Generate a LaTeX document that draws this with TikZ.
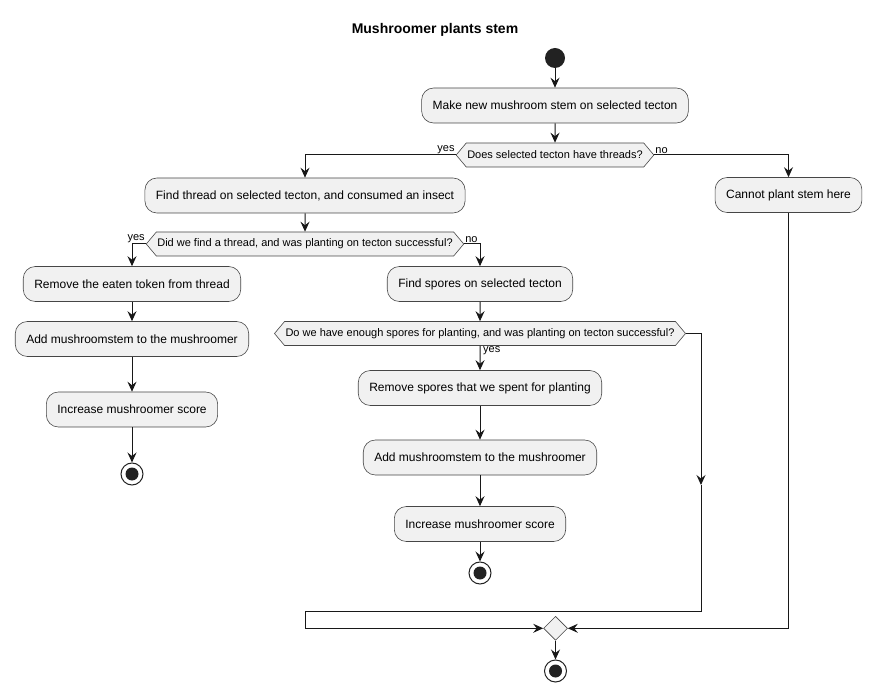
\documentclass[tikz,border=0pt]{standalone}
\usepackage{fontspec}
\setmainfont{Liberation Sans}
\usetikzlibrary{arrows.meta,shapes.symbols,shapes.geometric}
\definecolor{ink}{HTML}{181818}
\definecolor{boxfill}{HTML}{F1F1F1}
\definecolor{dotfill}{HTML}{222222}
\tikzstyle{action}=[rectangle,rounded corners=12pt,draw=ink!80,line width=0.6pt,fill=boxfill,minimum height=35pt,inner xsep=11pt,font=\fontsize{12}{14}\selectfont]
\tikzstyle{choice}=[signal,signal to=west and east,signal pointer angle=100,draw=ink!80,line width=0.6pt,fill=boxfill,minimum height=24pt,inner xsep=1pt,inner ysep=2pt,font=\fontsize{11}{13}\selectfont]
\tikzstyle{merge}=[diamond,draw=ink!80,line width=0.6pt,fill=boxfill,minimum size=24pt,inner sep=0pt]
\tikzstyle{start}=[circle,fill=dotfill,minimum size=20pt,inner sep=0pt]
\tikzstyle{finish}=[circle,draw=dotfill,line width=1pt,fill=white,minimum size=22pt,inner sep=0pt,path picture={\fill[dotfill] (path picture bounding box.center) circle (6.5pt);}]
\tikzstyle{lbl}=[inner sep=1pt,font=\fontsize{11}{13}\selectfont]
\tikzstyle{arr}=[-{Stealth[length=10pt,width=9pt,inset=3.5pt]},line width=1pt,draw=ink]

\begin{document}
\begin{tikzpicture}[x=1pt,y=-1pt]
        \useasboundingbox (0,0) rectangle (873,692);
        \node[font=\bfseries\fontsize{14}{16}\selectfont] (title) at (435,30) {Mushroomer plants stem};
        \node[start] (begin) at (555,58) {};
        \node[action] (make) at (555,105.5) {Make new mushroom stem on selected tecton};
        \node[choice] (threads) at (555,155) {Does selected tecton have threads?};
        \node[action] (findthread) at (305,195.5) {Find thread on selected tecton, and consumed an insect};
        \node[action] (cannot) at (788.5,195) {Cannot plant stem here};
        \node[choice] (found) at (305,244) {Did we find a thread, and was planting on tecton successful?};
        \node[action] (removetoken) at (132,284) {Remove the eaten token from thread};
        \node[action] (addstemA) at (132,339) {Add mushroomstem to the mushroomer};
        \node[action] (scoreA) at (132,409.5) {Increase mushroomer score};
        \node[finish] (endA) at (132,474) {};
        \node[action] (findspores) at (480,284) {Find spores on selected tecton};
        \node[choice] (enough) at (480,333.5) {Do we have enough spores for planting, and was planting on tecton successful?};
        \node[action] (removespores) at (480,388) {Remove spores that we spent for planting};
        \node[action] (addstemB) at (480,457.5) {Add mushroomstem to the mushroomer};
        \node[action] (scoreB) at (480,524) {Increase mushroomer score};
        \node[finish] (endB) at (480,573) {};
        \node[merge] (join) at (555.5,628.3) {};
        \node[finish] (endC) at (555.5,671) {};
        \coordinate (sidearrow) at (701,485);
        \coordinate (leftturn) at (305,611.3);
        \node[lbl,anchor=south east] (threadsyes) at (threads.west) {yes};
        \node[lbl,anchor=south west] (threadsno) at (threads.east) {no};
        \node[lbl,anchor=south east] (foundyes) at (found.west) {yes};
        \node[lbl,anchor=south west] (foundno) at (found.east) {no};
        \node[lbl,anchor=north west] (enoughyes) at ([xshift=2pt]enough.south) {yes};
        \draw[arr] (begin) -- (make);
        \draw[arr] (make) -- (threads);
        \draw[arr] (threads.west) -| (findthread.north);
        \draw[arr] (threads.east) -| (cannot.north);
        \draw[arr] (findthread) -- (found);
        \draw[arr] (found.west) -| (removetoken.north);
        \draw[arr] (found.east) -| (findspores.north);
        \draw[arr] (removetoken) -- (addstemA);
        \draw[arr] (addstemA) -- (scoreA);
        \draw[arr] (scoreA) -- (endA);
        \draw[arr] (findspores) -- (enough);
        \draw[arr] (enough) -- (removespores);
        \draw[arr] (removespores) -- (addstemB);
        \draw[arr] (addstemB) -- (scoreB);
        \draw[arr] (scoreB) -- (endB);
        \draw[arr] (enough.east) -| (sidearrow);
        \draw[arr] (sidearrow) |- (leftturn) |- (join.west);
        \draw[arr] (cannot.south) |- (join.east);
        \draw[arr] (join) -- (endC);
    \end{tikzpicture}
\end{document}
